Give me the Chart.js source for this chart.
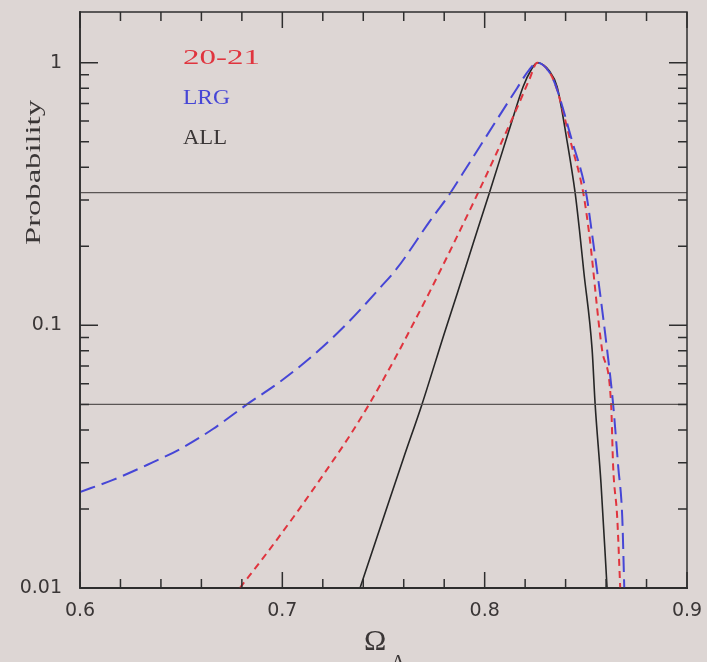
<!DOCTYPE html>
<html>
<head>
<meta charset="utf-8">
<script src="https://cdn.jsdelivr.net/npm/chart.js@4"></script>
<style>
  html, body { margin: 0; padding: 0; background: #ddd6d4; }
  #wrap { width: 707px; height: 662px; }
</style>
</head>
<body>
<div id="wrap"><canvas id="c" width="707" height="662"></canvas></div>
<script>
// ─── Data ───
const omegaRed = [0.679, 0.6924, 0.7088, 0.725, 0.7335, 0.743, 0.750, 0.7567, 0.762, 0.773, 0.784, 0.7953, 0.806, 0.816, 0.822, 0.826,
  0.832, 0.8353, 0.8422, 0.8487, 0.8516, 0.858, 0.8625, 0.8635, 0.8655, 0.867];
const probRed = [0.01, 0.0136, 0.0202, 0.0305, 0.0382, 0.0502, 0.0624, 0.0774, 0.0925, 0.135, 0.200, 0.303, 0.455, 0.673, 0.86, 1.0,
  0.92, 0.81, 0.51, 0.32, 0.225, 0.081, 0.05, 0.029, 0.0186, 0.01];

const omegaLRG = [0.600, 0.6163, 0.6331, 0.6494, 0.6657, 0.6825, 0.699, 0.7152, 0.732, 0.7483, 0.7567, 0.773, 0.7819, 0.7893, 0.8012, 0.816, 0.822, 0.826,
  0.832, 0.8353, 0.843, 0.8501, 0.853, 0.8605, 0.8635, 0.866, 0.868, 0.869];
const probLRG = [0.0232, 0.0258, 0.0294, 0.0338, 0.0403, 0.05, 0.0611, 0.0769, 0.1016, 0.139, 0.165, 0.25, 0.31, 0.38, 0.53, 0.80, 0.94, 1.0,
  0.92, 0.81, 0.51, 0.32, 0.225, 0.081, 0.05, 0.029, 0.0186, 0.01];

const omegaAll = [0.7384, 0.750, 0.760, 0.769, 0.780, 0.7864, 0.7943, 0.8022, 0.8126, 0.819, 0.823, 0.826,
  0.832, 0.8358, 0.8406, 0.8447, 0.847, 0.849, 0.8531, 0.8546, 0.8575, 0.8605];
const probAll = [0.01, 0.0185, 0.0314, 0.05, 0.093, 0.132, 0.205, 0.317, 0.57, 0.81, 0.94, 1.0,
  0.93, 0.81, 0.51, 0.32, 0.225, 0.16, 0.081, 0.05, 0.025, 0.01];

const levels = [0.32, 0.05];           // horizontal reference lines
const xRange = [0.6, 0.9];
const yRange = [0.01, 1.56];
const xTickLabels = [0.6, 0.7, 0.8, 0.9];
const yTickLabels = [0.01, 0.1, 1];

const COLORS = {
  red: '#e0343e',
  blue: '#4646d6',
  black: '#262626',
  level: '#5a5554',
  frame: '#2e2e2e',
  text: '#3a3636',
};

const pts = (xs, ys) => xs.map((x, i) => ({ x, y: ys[i] }));

// stretched text helper (the original font is wide)
function wideText(ctx, txt, x, y, width, font, color, rot = 0) {
  ctx.save();
  ctx.font = font;
  ctx.fillStyle = color;
  ctx.textBaseline = 'alphabetic';
  ctx.textAlign = 'left';
  const w = ctx.measureText(txt).width;
  ctx.translate(x, y);
  ctx.rotate(rot);
  ctx.scale(width / w, 1);
  ctx.fillText(txt, 0, 0);
  ctx.restore();
}

// ─── Frame + inward ticks on all four sides ───
const framePlugin = {
  id: 'frame',
  afterDatasetsDraw(chart) {
    const { ctx, chartArea: a, scales: { x, y } } = chart;
    ctx.save();
    ctx.strokeStyle = COLORS.frame;
    ctx.lineWidth = 1.5;
    ctx.strokeRect(a.left, a.top, a.right - a.left, a.bottom - a.top);

    ctx.beginPath();
    for (let v = 0.6; v <= 0.9001; v += 0.02) {
      const px = x.getPixelForValue(v);
      const major = Math.abs(v * 10 - Math.round(v * 10)) < 1e-6;
      const len = major ? 16 : 9;
      ctx.moveTo(px, a.bottom); ctx.lineTo(px, a.bottom - len);
      ctx.moveTo(px, a.top); ctx.lineTo(px, a.top + len);
    }
    [0.01, 0.1, 1].forEach(d => {
      for (let m = 1; m <= 9; m++) {
        const v = m * d;
        if (v > yRange[1]) continue;
        const py = y.getPixelForValue(v);
        const len = m === 1 ? 18 : 9;
        ctx.moveTo(a.left, py); ctx.lineTo(a.left + len, py);
        ctx.moveTo(a.right, py); ctx.lineTo(a.right - len, py);
      }
    });
    ctx.stroke();
    ctx.restore();
  }
};

// ─── Labels: key, axis titles ───
const labelPlugin = {
  id: 'labels',
  afterDraw(chart) {
    const { ctx } = chart;
    wideText(ctx, '20-21', 183, 64, 77, '22px "Liberation Serif"', COLORS.red);
    wideText(ctx, 'LRG', 183, 104, 47, '22px "Liberation Serif"', COLORS.blue);
    wideText(ctx, 'ALL', 183, 144, 44, '22px "Liberation Serif"', COLORS.text);

    // y title, rotated
    wideText(ctx, 'Probability', 40, 245, 145, '22px "Liberation Serif"', COLORS.text, -Math.PI / 2);

    // x title: Omega_Lambda
    ctx.save();
    ctx.fillStyle = COLORS.text;
    ctx.font = '30px "Liberation Serif"';
    ctx.textBaseline = 'alphabetic';
    ctx.fillText('Ω', 364, 650);
    ctx.font = '20px "Liberation Serif"';
    ctx.fillText('Λ', 391, 669);
    ctx.restore();
  }
};

const bgPlugin = {
  id: 'bg',
  beforeDraw(chart) {
    const { ctx, width, height } = chart;
    ctx.save();
    ctx.fillStyle = '#ddd6d4';
    ctx.fillRect(0, 0, width, height);
    ctx.restore();
  }
};

const levelSets = levels.map(v => ({
  data: [{ x: xRange[0], y: v }, { x: xRange[1], y: v }],
  borderColor: COLORS.level,
  borderWidth: 1.2,
  pointRadius: 0,
  tension: 0,
}));

new Chart(document.getElementById('c'), {
  type: 'line',
  data: {
    datasets: [
      ...levelSets,
      {
        label: 'LRG',
        data: pts(omegaLRG, probLRG),
        borderColor: COLORS.blue,
        borderWidth: 2,
        borderDash: [16, 7],
        pointRadius: 0,
        cubicInterpolationMode: 'monotone',
      },
      {
        label: '20-21',
        data: pts(omegaRed, probRed),
        borderColor: COLORS.red,
        borderWidth: 2,
        borderDash: [7, 5],
        pointRadius: 0,
        cubicInterpolationMode: 'monotone',
      },
      {
        label: 'ALL',
        data: pts(omegaAll, probAll),
        borderColor: COLORS.black,
        borderWidth: 1.6,
        pointRadius: 0,
        cubicInterpolationMode: 'monotone',
      },
    ]
  },
  options: {
    responsive: false,
    animation: false,
    events: [],
    layout: { padding: { top: 12, right: 20, left: 0, bottom: 0 } },
    scales: {
      x: {
        type: 'linear',
        min: xRange[0],
        max: xRange[1],
        afterBuildTicks: (s) => { s.ticks = xTickLabels.map(v => ({ value: v })); },
        afterFit: (s) => { s.height = 74; s.paddingLeft = 0; s.paddingRight = 0; },
        grid: { display: false, drawTicks: false },
        border: { display: true, color: COLORS.frame, width: 2 },
        ticks: {
          padding: 12,
          maxRotation: 0,
          autoSkip: false,
          color: COLORS.text,
          font: { family: 'DejaVu Sans', size: 19 },
          callback: (v) => v.toFixed(1),
        },
      },
      y: {
        type: 'logarithmic',
        min: yRange[0],
        max: yRange[1],
        afterBuildTicks: (s) => { s.ticks = yTickLabels.map(v => ({ value: v })); },
        afterFit: (s) => { s.width = 80; s.paddingTop = 0; s.paddingBottom = 0; },
        grid: { display: false, drawTicks: false },
        border: { display: true, color: '#555', width: 2 },
        ticks: {
          padding: 18,
          autoSkip: false,
          color: COLORS.text,
          font: { family: 'DejaVu Sans', size: 19 },
          callback: (v) => String(v),
        },
      },
    },
    plugins: {
      legend: { display: false },
      tooltip: { enabled: false },
    },
  },
  plugins: [bgPlugin, framePlugin, labelPlugin],
});
</script>
</body>
</html>
